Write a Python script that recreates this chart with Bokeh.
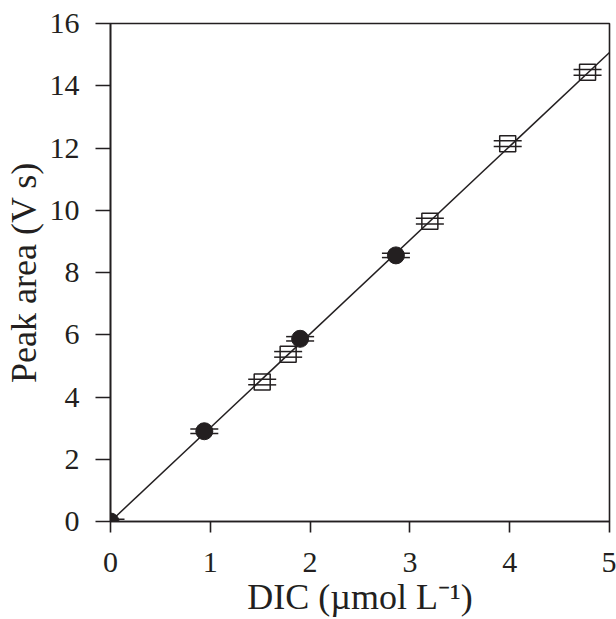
from bokeh.plotting import figure
from bokeh.models import (ColumnDataSource, Range1d, FixedTicker, Whisker, TeeHead)
from bokeh.embed import file_html
from bokeh.resources import INLINE

# ---- data ----
filled_x = [0.0, 0.94, 1.90, 2.86]
filled_y = [0.0, 2.90, 5.87, 8.55]
filled_err = [0.07, 0.07, 0.07, 0.07]

open_x = [1.52, 1.78, 3.20, 3.98, 4.78]
open_y = [4.48, 5.37, 9.65, 12.14, 14.43]
open_err = [0.09, 0.09, 0.09, 0.09, 0.09]

fit_x = [0.0, 5.0]
fit_y = [0.0, 15.07]

x_ticks = [0, 1, 2, 3, 4, 5]
y_ticks = [0, 2, 4, 6, 8, 10, 12, 14, 16]

x_label = "DIC (\u00b5mol L\u207b\u00b9)"
y_label = "Peak area (V s)"

FONT = "Liberation Serif"
INK = "#231f20"

p = figure(width=616, height=619, output_backend="svg", toolbar_location=None,
           x_range=Range1d(0, 5.0), y_range=Range1d(0, 16.0),
           min_border_left=110, min_border_right=7, min_border_top=23,
           min_border_bottom=98)
p.outline_line_color = INK
p.outline_line_width = 1.6
p.grid.visible = False
p.background_fill_color = "white"
p.border_fill_color = "white"

for ax, ticks, tick_out, standoff in [
        (p.xaxis[0], x_ticks, 11, 20),
        (p.yaxis[0], y_ticks, 15, 16)]:
    ax.ticker = FixedTicker(ticks=ticks)
    ax.major_tick_in = 0
    ax.major_tick_out = tick_out
    ax.minor_tick_line_color = None
    ax.axis_line_width = 1.6
    ax.major_tick_line_width = 1.6
    ax.axis_line_color = INK
    ax.major_tick_line_color = INK
    ax.major_label_text_font = FONT
    ax.major_label_text_font_size = "30px"
    ax.major_label_text_color = INK
    ax.major_label_standoff = standoff
    ax.axis_label_text_font = FONT
    ax.axis_label_text_font_size = "36px"
    ax.axis_label_text_font_style = "normal"
    ax.axis_label_text_color = INK

p.xaxis[0].axis_label = x_label
p.xaxis[0].axis_label_standoff = 2
p.yaxis[0].axis_label = y_label
p.yaxis[0].axis_label_standoff = 3

# fit line
p.line(fit_x, fit_y, line_color=INK, line_width=1.5)

src_f = ColumnDataSource(dict(x=filled_x, y=filled_y,
                              lo=[a - b for a, b in zip(filled_y, filled_err)],
                              hi=[a + b for a, b in zip(filled_y, filled_err)]))
src_o = ColumnDataSource(dict(x=open_x, y=open_y,
                              lo=[a - b for a, b in zip(open_y, open_err)],
                              hi=[a + b for a, b in zip(open_y, open_err)]))

for src in (src_f, src_o):
    w = Whisker(source=src, base="x", upper="hi", lower="lo", dimension="height",
                line_color=None,
                upper_head=TeeHead(size=28, line_width=1.5, line_color=INK),
                lower_head=TeeHead(size=28, line_width=1.5, line_color=INK))
    p.add_layout(w)

p.scatter("x", "y", source=src_o, marker="square", size=16,
          fill_color=None, line_color=INK, line_width=1.5)
p.scatter("x", "y", source=src_f, marker="circle", size=17,
          fill_color=INK, line_color=INK, line_width=1)

open("out.html", "w").write(file_html(p, INLINE))
